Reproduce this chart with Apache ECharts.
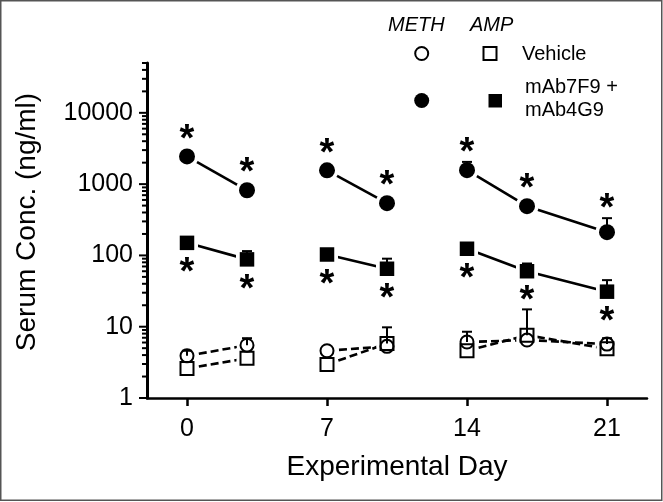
<!DOCTYPE html>
<html>
<head>
<meta charset="utf-8">
<script src="https://cdn.jsdelivr.net/npm/echarts@6/dist/echarts.min.js"></script>
<style>
html,body{margin:0;padding:0;background:#fff;}
#chart{width:663px;height:502px;}
</style>
</head>
<body>
<div id="chart"></div>
<script>
// ---- data ----
const days = [0, 3, 7, 10, 14, 17, 21];
const weekGroup = [0, 0, 1, 1, 2, 2, 2];
const methMab = [2450, 820, 1560, 540, 1570, 490, 212];
const ampMab = [150, 88, 103, 65, 124, 60, 31];
const methVeh = [3.9, 5.5, 4.6, 5.3, 6.1, 6.5, 5.7];
const ampVeh = [2.6, 3.6, 2.95, 5.8, 4.6, 7.6, 4.9];
// upper end of error bars (null = hidden / not visible)
const methMabErrTop = [null, null, null, null, 2050, null, 333];
const ampMabErrTop = [null, 115, null, 90, null, 77, 45];
const methVehErrTop = [4.6, 6.9, null, null, 8.5, null, 6.9];
const ampVehErrTop = [null, null, null, 9.8, null, 17.5, null];
const xTicks = [0, 7, 14, 21];
const yMin = 1, yMax = 50000;
const xMin = -2, xMax = 23;

const FONT = '"Liberation Sans", Arial, Helvetica, sans-serif';

// y-axis ticks (major = powers of ten, minor = 2..9 x 10^n)
const yTickData = [];
for (let p = 0; p <= 4; p++) {
  for (let m = 1; m <= 9; m++) {
    const v = m * Math.pow(10, p);
    if (v <= yMax) yTickData.push([v, m === 1 ? 1 : 0]);
  }
}

function pairs(vals) { return days.map((d, i) => [d, vals[i]]); }

function lineSeriesFor(vals, dashed) {
  const out = [];
  const groups = [...new Set(weekGroup)];
  groups.forEach(g => {
    const data = [];
    days.forEach((d, i) => { if (weekGroup[i] === g) data.push([d, vals[i]]); });
    out.push({
      type: 'line', data: data, symbol: 'none', z: 1, silent: true,
      lineStyle: { color: '#000', width: 2.6, type: dashed ? [8, 4] : 'solid' },
      animation: false
    });
  });
  return out;
}

function haloSeries(vals, symbol, size) {
  return {
    type: 'scatter', data: pairs(vals), symbol: symbol, symbolSize: size, z: 2,
    itemStyle: { color: '#fff', opacity: 1 }, silent: true, animation: false
  };
}

function errSeries(vals, tops) {
  const data = [];
  days.forEach((d, i) => { if (tops[i] != null) data.push([d, vals[i], tops[i]]); });
  return {
    type: 'custom', z: 3, silent: true, animation: false,
    data: data,
    renderItem: function (params, api) {
      const p0 = api.coord([api.value(0), api.value(1)]);
      const p1 = api.coord([api.value(0), api.value(2)]);
      const cap = 5;
      return {
        type: 'group',
        children: [
          { type: 'line', shape: { x1: p0[0], y1: p0[1], x2: p1[0], y2: p1[1] }, style: { stroke: '#000', lineWidth: 2 } },
          { type: 'line', shape: { x1: p1[0] - cap, y1: p1[1], x2: p1[0] + cap, y2: p1[1] }, style: { stroke: '#000', lineWidth: 2 } }
        ]
      };
    }
  };
}

function markerSeries(vals, symbol, size, filled) {
  return {
    type: 'scatter', data: pairs(vals), symbol: symbol, symbolSize: size, z: 4,
    itemStyle: filled ? { color: '#000', opacity: 1 } : { color: 'rgba(0,0,0,0)', borderColor: '#000', borderWidth: 2, opacity: 1 },
    silent: true, animation: false
  };
}

// asterisks: above circles (clear of error bars), below squares
function starSeries(vals, tops, above) {
  const data = days.map((d, i) => [d, vals[i], tops[i] != null ? tops[i] : vals[i]]);
  return {
    type: 'custom', z: 5, silent: true, animation: false,
    data: data,
    renderItem: function (params, api) {
      const c = api.coord([api.value(0), api.value(1)]);
      const t = api.coord([api.value(0), api.value(2)]);
      let y;
      if (above) y = Math.min(c[1] - 25, t[1] - 17);
      else y = c[1] + 22;
      const fs = 38;
      return {
        type: 'text',
        style: { text: '*', x: c[0], y: y + 0.23 * fs, align: 'center', verticalAlign: 'middle', font: 'bold ' + fs + 'px ' + FONT, fill: '#000' }
      };
    }
  };
}

const yTickSeries = {
  type: 'custom', z: 5, silent: true, animation: false, clip: false,
  data: yTickData.map(t => [xMin, t[0], t[1]]),
  renderItem: function (params, api) {
    const p = api.coord([api.value(0), api.value(1)]);
    const len = api.value(2) ? 8 : 5;
    return { type: 'line', shape: { x1: p[0] - len, y1: p[1], x2: p[0], y2: p[1] }, style: { stroke: '#000', lineWidth: 2 } };
  }
};

const series = [].concat(
  lineSeriesFor(methMab, false),
  lineSeriesFor(ampMab, false),
  lineSeriesFor(methVeh, true),
  lineSeriesFor(ampVeh, true),
  [
    haloSeries(methMab, 'circle', 23),
    haloSeries(ampMab, 'rect', 22),
    haloSeries(methVeh, 'circle', 21),
    haloSeries(ampVeh, 'rect', 21),
    errSeries(methMab, methMabErrTop),
    errSeries(ampMab, ampMabErrTop),
    errSeries(methVeh, methVehErrTop),
    errSeries(ampVeh, ampVehErrTop),
    markerSeries(methMab, 'circle', 16, true),
    markerSeries(ampMab, 'rect', 14.5, true),
    markerSeries(methVeh, 'circle', 13, false),
    markerSeries(ampVeh, 'rect', 13, false),
    starSeries(methMab, methMabErrTop, true),
    starSeries(ampMab, ampMabErrTop, false),
    yTickSeries
  ]
);

const chart = echarts.init(document.getElementById('chart'), null, { renderer: 'canvas' });
chart.setOption({
  animation: false,
  backgroundColor: '#fff',
  grid: { left: 147, right: 16, top: 63, bottom: 104, containLabel: false },
  xAxis: {
    type: 'value', min: xMin, max: xMax,
    axisLine: { show: true, onZero: false, lineStyle: { color: '#000', width: 2.5 } },
    axisTick: { show: true, length: 8, customValues: xTicks, lineStyle: { color: '#000', width: 2.5 } },
    axisLabel: { customValues: xTicks, margin: 19, fontSize: 25, color: '#000', fontFamily: FONT },
    splitLine: { show: false },
    name: 'Experimental Day', nameLocation: 'middle', nameGap: 55,
    nameTextStyle: { fontSize: 28, color: '#000', fontFamily: FONT }
  },
  yAxis: {
    type: 'log', logBase: 10, min: yMin, max: yMax,
    axisLine: { show: true, onZero: false, lineStyle: { color: '#000', width: 3 } },
    axisTick: { show: false },
    axisLabel: {
      margin: 14, fontSize: 25, color: '#000', fontFamily: FONT,
      showMaxLabel: false,
      formatter: function (v) {
        const l = Math.log10(v);
        if (Math.abs(l - Math.round(l)) < 1e-6) return String(Math.round(Math.pow(10, Math.round(l))));
        return '';
      }
    },
    splitLine: { show: false },
    minorTick: { show: false }
  },
  graphic: [
    { type: 'rect', shape: { x: 0.75, y: 0.75, width: 661, height: 499.5 }, style: { fill: 'none', stroke: '#555', lineWidth: 1.5 }, z: 100 },
    { type: 'text', x: 27, y: 222, rotation: Math.PI / 2, style: { text: 'Serum Conc. (ng/ml)', font: '28px ' + FONT, fill: '#000', align: 'center', verticalAlign: 'middle' } },
    { type: 'text', x: 388, y: 25, style: { text: 'METH', font: 'italic 20px ' + FONT, fill: '#000', align: 'left', verticalAlign: 'middle' } },
    { type: 'text', x: 470, y: 25, style: { text: 'AMP', font: 'italic 20px ' + FONT, fill: '#000', align: 'left', verticalAlign: 'middle' } },
    { type: 'circle', shape: { cx: 421.7, cy: 53.5, r: 6.5 }, style: { fill: 'none', stroke: '#000', lineWidth: 2 } },
    { type: 'rect', shape: { x: 483.5, y: 47, width: 13, height: 13 }, style: { fill: 'none', stroke: '#000', lineWidth: 2 } },
    { type: 'text', x: 522, y: 54, style: { text: 'Vehicle', font: '20px ' + FONT, fill: '#000', align: 'left', verticalAlign: 'middle' } },
    { type: 'circle', shape: { cx: 421.7, cy: 100.5, r: 7.5 }, style: { fill: '#000' } },
    { type: 'rect', shape: { x: 488.5, y: 94, width: 13.5, height: 13.5 }, style: { fill: '#000' } },
    { type: 'text', x: 525, y: 87, style: { text: 'mAb7F9 +', font: '20px ' + FONT, fill: '#000', align: 'left', verticalAlign: 'middle' } },
    { type: 'text', x: 525, y: 110.5, style: { text: 'mAb4G9', font: '20px ' + FONT, fill: '#000', align: 'left', verticalAlign: 'middle' } }
  ],
  series: series
});
</script>
</body>
</html>
